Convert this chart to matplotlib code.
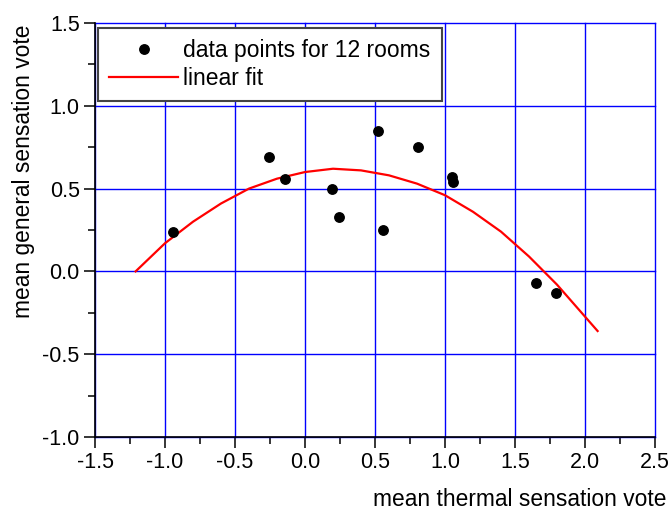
import matplotlib
matplotlib.use('Agg')
import matplotlib.pyplot as plt
from matplotlib.ticker import MultipleLocator

plt.rcParams['font.family'] = ['Liberation Sans', 'DejaVu Sans']

# data points for 12 rooms
thermal = [-0.94, -0.26, -0.14, 0.19, 0.24, 0.52, 0.56, 0.81, 1.05, 1.06, 1.65, 1.79]
general = [0.24, 0.69, 0.56, 0.50, 0.33, 0.85, 0.25, 0.75, 0.57, 0.54, -0.07, -0.13]

# fit curve
fit_x = [-1.21, -1.0, -0.8, -0.6, -0.4, -0.2, 0.0, 0.2, 0.4, 0.6, 0.8, 1.0, 1.2, 1.4, 1.6, 1.8, 2.09]
fit_y = [0.00, 0.17, 0.30, 0.41, 0.50, 0.56, 0.60, 0.62, 0.61, 0.58, 0.53, 0.46, 0.36, 0.24, 0.09, -0.08, -0.36]

W, H = 669, 511
fig = plt.figure(figsize=(W / 100, H / 100), dpi=100)
ax = fig.add_axes([95 / W, 1 - 437 / H, 560 / W, 414 / H])

ax.plot(thermal, general, 'o', color='black', ms=6.8, label='data points for 12 rooms', zorder=3)
ax.plot(fit_x, fit_y, color='red', lw=1.6, label='linear fit', zorder=2)

ax.set_xlim(-1.5, 2.5)
ax.set_ylim(-1.0, 1.5)
ax.xaxis.set_major_locator(MultipleLocator(0.5))
ax.xaxis.set_minor_locator(MultipleLocator(0.25))
ax.yaxis.set_major_locator(MultipleLocator(0.5))
ax.yaxis.set_minor_locator(MultipleLocator(0.25))
ax.xaxis.set_major_formatter(plt.FormatStrFormatter('%.1f'))
ax.yaxis.set_major_formatter(plt.FormatStrFormatter('%.1f'))

# blue grid, also along the top and right edges
ax.grid(True, which='major', color='#0000ff', lw=1.0)
for gl in ax.get_xgridlines() + ax.get_ygridlines():
    gl.set_clip_on(False)
ax.set_axisbelow(True)

for s in ['top', 'right']:
    ax.spines[s].set_visible(False)
for s in ['left', 'bottom']:
    ax.spines[s].set_linewidth(1.2)
    ax.spines[s].set_zorder(4)

ax.tick_params(which='major', direction='out', length=8, width=1.1, labelsize=15.5, pad=3)
ax.tick_params(which='minor', direction='out', length=5, width=1.1)

fig.text(24 / W, 1 - 171 / H, 'mean general sensation vote', rotation=90,
         ha='center', va='center', fontsize=16.4)
fig.text(373 / W, 1 - 499 / H, 'mean thermal sensation vote',
         ha='left', va='center', fontsize=16.4)

leg = ax.legend(loc='upper left', bbox_to_anchor=(3 / 560, 1 - 5 / 414), fontsize=16.5,
                frameon=True, fancybox=False, borderaxespad=0, handlelength=3.0,
                handletextpad=0.2, borderpad=0.5, labelspacing=0.18)
leg.get_frame().set_edgecolor('#444444')
leg.get_frame().set_linewidth(1.5)
leg.get_frame().set_alpha(1)

fig.savefig('out.png', dpi=100)
